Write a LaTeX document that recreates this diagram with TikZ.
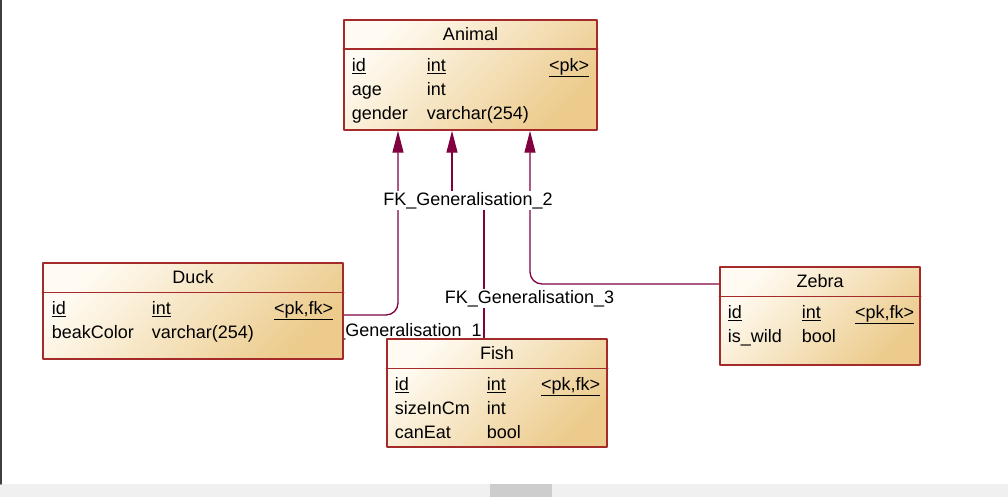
\documentclass[tikz,border=0pt]{standalone}
\usepackage{fontspec}
\setmainfont{Liberation Sans}
\usetikzlibrary{arrows.meta,backgrounds}
\definecolor{tblborder}{RGB}{165,42,42}
\definecolor{tbltop}{RGB}{255,251,242}
\definecolor{tblbot}{RGB}{236,203,140}
\definecolor{fkcolor}{RGB}{128,0,64}
\definecolor{barcolor}{RGB}{240,240,240}
\definecolor{thumbcolor}{RGB}{205,205,205}
\definecolor{leftline}{RGB}{64,64,64}
\begin{document}
\begin{tikzpicture}[x=1pt,y=-1pt,line cap=round,line join=round,
	font=\fontsize{18}{22}\selectfont,
	tbl/.style={draw=tblborder,line width=1.5pt,inner sep=0pt,top color=tbltop,bottom color=tblbot,shading angle=45},
	fk/.style={draw=fkcolor,line width=1.3pt,rounded corners=12pt,-{Triangle[length=22pt,width=11pt]}},
	fklabel/.style={fill=white,inner sep=1pt,anchor=base}]
	\useasboundingbox (0,0) rectangle (1008,497);
	%Khung cửa sổ
	\fill[barcolor] (0,484) rectangle (1008,497);
	\fill[thumbcolor] (490,484) rectangle (552,497);
	\draw[leftline,line width=1.5pt] (0.75,0)--(0.75,484);
	%Vẽ bảng
	\node[tbl,minimum width=253,minimum height=110] (animal) at (470.5,75) {};
	\node[tbl,minimum width=300,minimum height=96] (duck) at (193,311) {};
	\node[tbl,minimum width=220,minimum height=108] (fish) at (497,393) {};
	\node[tbl,minimum width=200,minimum height=98] (zebra) at (820,316) {};
	\foreach \t in {animal,duck,fish,zebra}
	\draw[tblborder,line width=1.5pt] ([yshift=-30pt]\t.north west)--([yshift=-30pt]\t.north east);
	\node[anchor=base] (animal-h) at ([yshift=-21pt]animal.north) {Animal};
	\node[anchor=base] (duck-h) at ([yshift=-21pt]duck.north) {Duck};
	\node[anchor=base] (fish-h) at ([yshift=-21pt]fish.north) {Fish};
	\node[anchor=base] (zebra-h) at ([yshift=-21pt]zebra.north) {Zebra};
	%Các cột
	\foreach \n/\t/\k [count=\i] in {\underline{id}/\underline{int}/\underline{<pk>},age/int/,gender/varchar(254)/}{
		\node[anchor=base west] (animal-n\i) at ([xshift=5pt,yshift={-28pt-24pt*\i}]animal.north west) {\n};
		\node[anchor=base west] (animal-t\i) at ([xshift=80pt,yshift={-28pt-24pt*\i}]animal.north west) {\t};
		\node[anchor=base east] (animal-k\i) at ([xshift=-5pt,yshift={-28pt-24pt*\i}]animal.north east) {\k};
	}
	\foreach \n/\t/\k [count=\i] in {\underline{id}/\underline{int}/\underline{<pk,fk>},beakColor/varchar(254)/}{
		\node[anchor=base west] (duck-n\i) at ([xshift=6pt,yshift={-28pt-24pt*\i}]duck.north west) {\n};
		\node[anchor=base west] (duck-t\i) at ([xshift=106pt,yshift={-28pt-24pt*\i}]duck.north west) {\t};
		\node[anchor=base east] (duck-k\i) at ([xshift=-7pt,yshift={-28pt-24pt*\i}]duck.north east) {\k};
	}
	\foreach \n/\t/\k [count=\i] in {\underline{id}/\underline{int}/\underline{<pk,fk>},sizeInCm/int/,canEat/bool/}{
		\node[anchor=base west] (fish-n\i) at ([xshift=5pt,yshift={-28pt-24pt*\i}]fish.north west) {\n};
		\node[anchor=base west] (fish-t\i) at ([xshift=97pt,yshift={-28pt-24pt*\i}]fish.north west) {\t};
		\node[anchor=base east] (fish-k\i) at ([xshift=-4pt,yshift={-28pt-24pt*\i}]fish.north east) {\k};
	}
	\foreach \n/\t/\k [count=\i] in {\underline{id}/\underline{int}/\underline{<pk,fk>},is\_wild/bool/}{
		\node[anchor=base west] (zebra-n\i) at ([xshift=5pt,yshift={-28pt-24pt*\i}]zebra.north west) {\n};
		\node[anchor=base west] (zebra-t\i) at ([xshift=79pt,yshift={-28pt-24pt*\i}]zebra.north west) {\t};
		\node[anchor=base east] (zebra-k\i) at ([xshift=-3pt,yshift={-28pt-24pt*\i}]zebra.north east) {\k};
	}
	%Vẽ đường nối
	\begin{scope}[on background layer]
		\node[fklabel] (fk1) at (397,336) {FK\_Generalisation\_1};
		\draw[fk] ([yshift=-4pt]duck.east) -| ([xshift=-72.5pt]animal.south);
		\draw[fk,rounded corners=0pt] ([xshift=-13pt]fish.north) |- (468,198) -| ([xshift=-18.5pt]animal.south);
		\draw[fk] ([yshift=32pt]zebra.west) -| ([xshift=59.5pt]animal.south);
		\node[fklabel] (fk2) at (468,205) {FK\_Generalisation\_2};
		\node[fklabel] (fk3) at (529.5,303) {FK\_Generalisation\_3};
	\end{scope}
\end{tikzpicture}
\end{document}
